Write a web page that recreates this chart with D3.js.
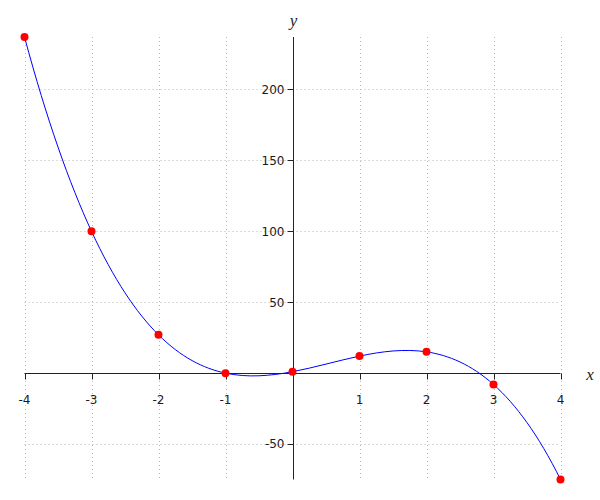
<!DOCTYPE html>
<html>
<head>
<meta charset="utf-8">
<script src="https://cdn.jsdelivr.net/npm/d3@7"></script>
<style>
  body { margin: 0; background: #fff; }
  .tick-label { font-family: "DejaVu Sans", sans-serif; font-size: 12px; fill: #1a1a1a; }
  .axis-name { font-family: "Liberation Serif", serif; font-style: italic; font-size: 17px; fill: #222; }
</style>
</head>
<body>
<svg width="600" height="500"></svg>
<script>
// data points
var xs = [-4, -3, -2, -1, 0, 1, 2, 3, 4];
var ys = [237, 100, 27, 0, 1, 12, 15, -8, -75];
var xTicks = [-4, -3, -2, -1, 1, 2, 3, 4];
var yTicks = [-50, 50, 100, 150, 200];

var svg = d3.select('svg');

var xScale = d3.scaleLinear().domain([-4, 4]).range([24.5, 560.5]);
var yScale = d3.scaleLinear().domain([-75, 237]).range([479.5, 37]);

var points = xs.map(function(x, i) { return {x: x, y: ys[i]}; });

// custom curve: cubic spline with not-a-knot ends
function curveNotAKnot(context) {
    var px, py;
    return {
        areaStart: function() {},
        areaEnd: function() {},
        lineStart: function() { px = []; py = []; },
        point: function(x, y) { px.push(+x); py.push(+y); },
        lineEnd: function() {
            var n = px.length;
            if (n < 4) {
                context.moveTo(px[0], py[0]);
                for (var k = 1; k < n; k++) context.lineTo(px[k], py[k]);
                return;
            }
            var h = [], d = [];
            for (var i = 0; i < n - 1; i++) {
                h.push(px[i + 1] - px[i]);
                d.push((py[i + 1] - py[i]) / h[i]);
            }
            // build system for second derivatives M
            var A = [], b = [];
            for (i = 0; i < n; i++) { A.push(new Array(n).fill(0)); b.push(0); }
            A[0][0] = h[1]; A[0][1] = -(h[0] + h[1]); A[0][2] = h[0];
            for (i = 1; i < n - 1; i++) {
                A[i][i - 1] = h[i - 1];
                A[i][i] = 2 * (h[i - 1] + h[i]);
                A[i][i + 1] = h[i];
                b[i] = 6 * (d[i] - d[i - 1]);
            }
            A[n - 1][n - 3] = h[n - 2];
            A[n - 1][n - 2] = -(h[n - 3] + h[n - 2]);
            A[n - 1][n - 1] = h[n - 3];
            // gaussian elimination with pivoting
            for (var c = 0; c < n; c++) {
                var p = c;
                for (var r = c + 1; r < n; r++) if (Math.abs(A[r][c]) > Math.abs(A[p][c])) p = r;
                var tmp = A[c]; A[c] = A[p]; A[p] = tmp;
                var tb = b[c]; b[c] = b[p]; b[p] = tb;
                for (r = c + 1; r < n; r++) {
                    var f = A[r][c] / A[c][c];
                    for (var k2 = c; k2 < n; k2++) A[r][k2] -= f * A[c][k2];
                    b[r] -= f * b[c];
                }
            }
            var M = new Array(n).fill(0);
            for (i = n - 1; i >= 0; i--) {
                var s = b[i];
                for (var j = i + 1; j < n; j++) s -= A[i][j] * M[j];
                M[i] = s / A[i][i];
            }
            var m = [];
            for (i = 0; i < n - 1; i++) m.push(d[i] - h[i] * (2 * M[i] + M[i + 1]) / 6);
            m.push(d[n - 2] + h[n - 2] * (M[n - 2] + 2 * M[n - 1]) / 6);
            context.moveTo(px[0], py[0]);
            for (i = 0; i < n - 1; i++) {
                context.bezierCurveTo(
                    px[i] + h[i] / 3, py[i] + m[i] * h[i] / 3,
                    px[i + 1] - h[i] / 3, py[i + 1] - m[i + 1] * h[i] / 3,
                    px[i + 1], py[i + 1]);
            }
        }
    };
}

// grid
svg.selectAll('.vgrid')
    .data(xTicks)
    .enter()
    .append('line')
    .attr('class', 'vgrid')
    .attr('x1', d => Math.round(xScale(d)) + 0.5)
    .attr('x2', d => Math.round(xScale(d)) + 0.5)
    .attr('y1', yScale(237))
    .attr('y2', yScale(-75))
    .style('stroke', '#b8b8b8')
    .style('stroke-dasharray', '1,3');

svg.selectAll('.hgrid')
    .data(yTicks)
    .enter()
    .append('line')
    .attr('class', 'hgrid')
    .attr('x1', xScale(-4))
    .attr('x2', xScale(4))
    .attr('y1', d => Math.round(yScale(d)) + 0.5)
    .attr('y2', d => Math.round(yScale(d)) + 0.5)
    .style('stroke', '#b8b8b8')
    .style('stroke-dasharray', '1,3');

var x0 = Math.round(xScale(0)) + 0.5;
var y0 = Math.round(yScale(0)) + 0.5;

// axes lines
svg.append('line')
    .attr('x1', xScale(-4)).attr('x2', xScale(4))
    .attr('y1', y0).attr('y2', y0)
    .style('stroke', '#222');
svg.append('line')
    .attr('x1', x0).attr('x2', x0)
    .attr('y1', yScale(237)).attr('y2', yScale(-75))
    .style('stroke', '#222');

// x ticks
svg.selectAll('.xtick')
    .data(xTicks)
    .enter()
    .append('line')
    .attr('x1', d => Math.round(xScale(d)) + 0.5)
    .attr('x2', d => Math.round(xScale(d)) + 0.5)
    .attr('y1', y0).attr('y2', y0 + 6)
    .style('stroke', '#222');
svg.selectAll('.xlabel')
    .data(xTicks)
    .enter()
    .append('text')
    .attr('class', 'tick-label')
    .attr('x', d => xScale(d))
    .attr('y', y0 + 30)
    .attr('text-anchor', 'middle')
    .text(d => d);

// y ticks
svg.selectAll('.ytick')
    .data(yTicks)
    .enter()
    .append('line')
    .attr('x1', x0 - 6).attr('x2', x0)
    .attr('y1', d => Math.round(yScale(d)) + 0.5)
    .attr('y2', d => Math.round(yScale(d)) + 0.5)
    .style('stroke', '#222');
svg.selectAll('.ylabel')
    .data(yTicks)
    .enter()
    .append('text')
    .attr('class', 'tick-label')
    .attr('x', x0 - 9)
    .attr('y', d => yScale(d))
    .attr('dy', '0.36em')
    .attr('text-anchor', 'end')
    .text(d => d);

// axis names
svg.append('text').attr('class', 'axis-name')
    .attr('x', x0).attr('y', 26).attr('text-anchor', 'middle').text('y');
svg.append('text').attr('class', 'axis-name')
    .attr('x', 590).attr('y', 380).attr('text-anchor', 'middle').text('x');

// curve
var line = d3.line()
    .x(d => xScale(d.x))
    .y(d => yScale(d.y))
    .curve(curveNotAKnot);

svg.append('path')
    .attr('d', line(points))
    .style('fill', 'none')
    .style('stroke', '#0000ff')
    .style('stroke-width', 1);

svg.selectAll('.dot')
    .data(points)
    .enter()
    .append('circle')
    .attr('cx', d => xScale(d.x))
    .attr('cy', d => yScale(d.y))
    .attr('r', 4)
    .style('fill', '#ff0000');
</script>
</body>
</html>
